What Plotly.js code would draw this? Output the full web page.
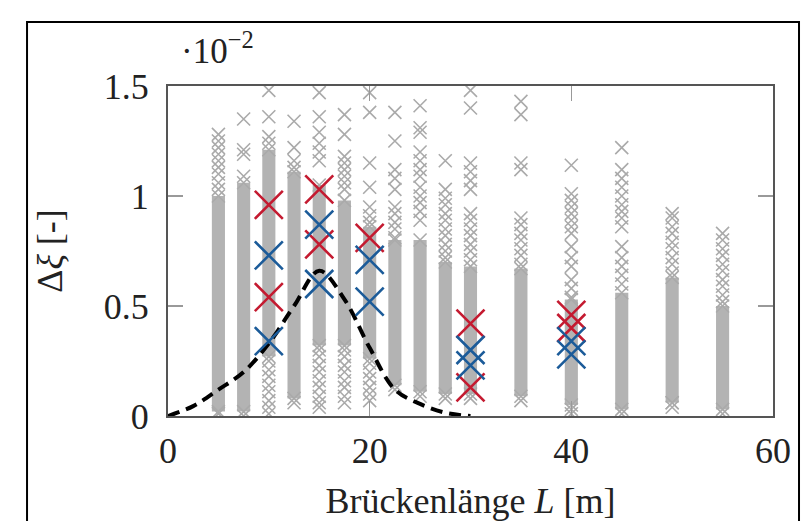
<!DOCTYPE html>
<html>
<head>
<meta charset="utf-8">
<script src="https://cdn.plot.ly/plotly-3.0.1.min.js"></script>
<style>html,body{margin:0;padding:0;background:#fff;}#chart{width:804px;height:521px;}</style>
</head>
<body>
<div id="chart"></div>
<script>
// Bridge lengths (columns of the gray scatter)
const cols = [5, 7.5, 10, 12.5, 15, 17.5, 20, 22.5, 25, 27.5, 30, 35, 40, 45, 50, 55];
// dense part of each gray column (overlapping markers), low / high edge
const bandLow  = [0.02, 0.02, 0.27, 0.08, 0.32, 0.32, 0.26, 0.14, 0.11, 0.10, 0.10, 0.09, 0.05, 0.03, 0.06, 0.03];
const bandHigh = [1.00, 1.06, 1.21, 1.11, 1.05, 0.98, 0.86, 0.80, 0.80, 0.70, 0.68, 0.67, 0.53, 0.56, 0.63, 0.50];
// individually visible gray markers per column
const g5    = [1.28, 1.25, 1.22, 1.19, 1.16, 1.13, 1.10, 1.06, 1.03, 0.01];
const g7_5  = [1.35, 1.21, 1.19, 1.09, 0.00];
const g10   = [1.48, 1.36, 1.27, 1.24, 0.25, 0.21, 0.18, 0.14, 0.11, 0.07, 0.04, 0.01];
const g12_5 = [1.34, 1.22, 1.16, 1.13, 0.06];
const g15   = [1.47, 1.36, 1.29, 1.24, 1.20, 1.16, 0.30, 0.27, 0.23, 0.20, 0.16, 0.13, 0.09, 0.06, 0.04];
const g17_5 = [1.37, 1.28, 1.18, 1.15, 1.12, 1.09, 1.06, 1.03, 0.30, 0.27, 0.23, 0.20, 0.16, 0.13, 0.09, 0.06];
const g20   = [1.47, 1.38, 1.15, 1.04, 0.95, 0.91, 0.88, 0.24, 0.20, 0.17, 0.13, 0.10, 0.07];
const g22_5 = [1.38, 1.25, 1.12, 1.08, 1.03, 0.95, 0.92, 0.88, 0.85, 0.81, 0.12];
const g25   = [1.41, 1.31, 1.29, 1.20, 1.16, 1.12, 1.09, 1.04, 1.00, 0.97, 0.93, 0.89, 0.09];
const g27_5 = [1.16, 1.03, 0.99, 0.96, 0.92, 0.89, 0.85, 0.82, 0.78, 0.75, 0.72, 0.08];
const g30   = [1.48, 1.40, 1.15, 1.11, 1.07, 1.03, 0.92, 0.89, 0.85, 0.82, 0.78, 0.75, 0.71, 0.08];
const g35   = [1.43, 1.37, 1.15, 1.12, 0.90, 0.87, 0.83, 0.80, 0.76, 0.73, 0.69, 0.07];
const g40   = [1.14, 1.01, 0.98, 0.95, 0.92, 0.89, 0.86, 0.83, 0.77, 0.72, 0.68, 0.62, 0.58, 0.54, 0.03, 0.01];
const g45   = [1.22, 1.12, 1.08, 1.04, 1.00, 0.96, 0.93, 0.90, 0.86, 0.77, 0.72, 0.68, 0.64, 0.60, 0.01];
const g50   = [0.92, 0.90, 0.86, 0.83, 0.79, 0.76, 0.72, 0.69, 0.65, 0.06, 0.04];
const g55   = [0.83, 0.80, 0.76, 0.73, 0.69, 0.66, 0.62, 0.59, 0.55, 0.52, 0.01];
const grayCols = [g5, g7_5, g10, g12_5, g15, g17_5, g20, g22_5, g25, g27_5, g30, g35, g40, g45, g50, g55];
// highlighted results
const redX  = [10, 10, 15, 15, 20, 30, 30, 40, 40];
const redY  = [0.96, 0.54, 1.03, 0.78, 0.81, 0.42, 0.13, 0.46, 0.40];
const blueX = [10, 10, 15, 15, 20, 20, 30, 30, 40, 40];
const blueY = [0.73, 0.34, 0.87, 0.60, 0.71, 0.52, 0.30, 0.23, 0.34, 0.28];
// dashed reference curve
const curveX = [0, 2.5, 5, 7.5, 10, 12.5, 15, 17.5, 20, 22.5, 25, 27.5, 30];
const curveY = [0, 0.045, 0.12, 0.20, 0.33, 0.50, 0.66, 0.53, 0.31, 0.12, 0.055, 0.015, 0];

const gx = [], gy = [];
grayCols.forEach((arr, i) => arr.forEach(v => { gx.push(cols[i]); gy.push(v); }));
// band ends are marker crosses too
cols.forEach((c, i) => { gx.push(c, c); gy.push(bandLow[i], bandHigh[i]); });

const GRAY = '#b3b3b3';
const traces = [
  {type: 'bar', x: cols, base: bandLow, y: bandHigh.map((h, i) => h - bandLow[i]),
   width: 1.3, marker: {color: GRAY, line: {width: 0}}, hoverinfo: 'skip', showlegend: false},
  {type: 'scatter', mode: 'markers', x: gx, y: gy,
   marker: {symbol: 'x-thin', size: 13, color: '#aaaaaa', line: {color: '#aaaaaa', width: 1.6}}, showlegend: false},
  {type: 'scatter', mode: 'lines', x: curveX, y: curveY,
   line: {color: '#000', width: 4, dash: '12px,7px', shape: 'spline', smoothing: 1.0}, showlegend: false},
  {type: 'scatter', mode: 'markers', x: redX, y: redY,
   marker: {symbol: 'x-thin', size: 28, color: '#c41a30', line: {color: '#c41a30', width: 2.6}}, showlegend: false},
  {type: 'scatter', mode: 'markers', x: blueX, y: blueY,
   marker: {symbol: 'x-thin', size: 28, color: '#1b5b99', line: {color: '#1b5b99', width: 2.6}}, showlegend: false}
];

const FONT = 'Liberation Serif, Times New Roman, serif';
const layout = {
  width: 804, height: 521,
  margin: {l: 168, r: 31, t: 86, b: 105, pad: 0},
  paper_bgcolor: '#fff', plot_bgcolor: '#fff',
  barmode: 'overlay',
  font: {family: FONT, color: '#222', size: 35},
  xaxis: {
    range: [0, 60], tickvals: [0, 20, 40, 60], ticktext: ['0', '20', '40', '60'],
    showgrid: false, zeroline: false, showline: true, linecolor: '#555', linewidth: 2, mirror: 'ticks',
    ticks: 'inside', ticklen: 15, tickwidth: 1.5, tickcolor: '#999',
    tickfont: {family: FONT, size: 36, color: '#222'}, ticklabelstandoff: 2,
    title: {text: 'Brückenlänge <i>L</i> [m]', font: {family: FONT, size: 36, color: '#222'}, standoff: 18}
  },
  yaxis: {
    range: [0, 1.5], tickvals: [0, 0.5, 1, 1.5], ticktext: ['0', '0.5', '1', '1.5'],
    showgrid: false, zeroline: false, showline: true, linecolor: '#555', linewidth: 2, mirror: 'ticks',
    ticks: 'inside', ticklen: 15, tickwidth: 1.5, tickcolor: '#999',
    tickfont: {family: FONT, size: 36, color: '#222'}, ticklabelstandoff: 10,
    title: {text: 'Δ<i>ξ</i> [-]', font: {family: FONT, size: 36, color: '#222'}, standoff: 30}
  },
  annotations: [{
    xref: 'paper', yref: 'paper', x: 0.018, y: 1.115, xanchor: 'left', yanchor: 'middle',
    text: '·10<sup>−2</sup>', showarrow: false, font: {family: FONT, size: 35, color: '#222'}
  }],
  shapes: [{
    type: 'rect', xref: 'paper', yref: 'paper', x0: -0.233, x1: 1.043, y0: -0.4, y1: 1.194,
    line: {color: '#000', width: 2}, fillcolor: 'rgba(0,0,0,0)', layer: 'above'
  }]
};

Plotly.newPlot('chart', traces, layout, {displayModeBar: false, staticPlot: true});
</script>
</body>
</html>
